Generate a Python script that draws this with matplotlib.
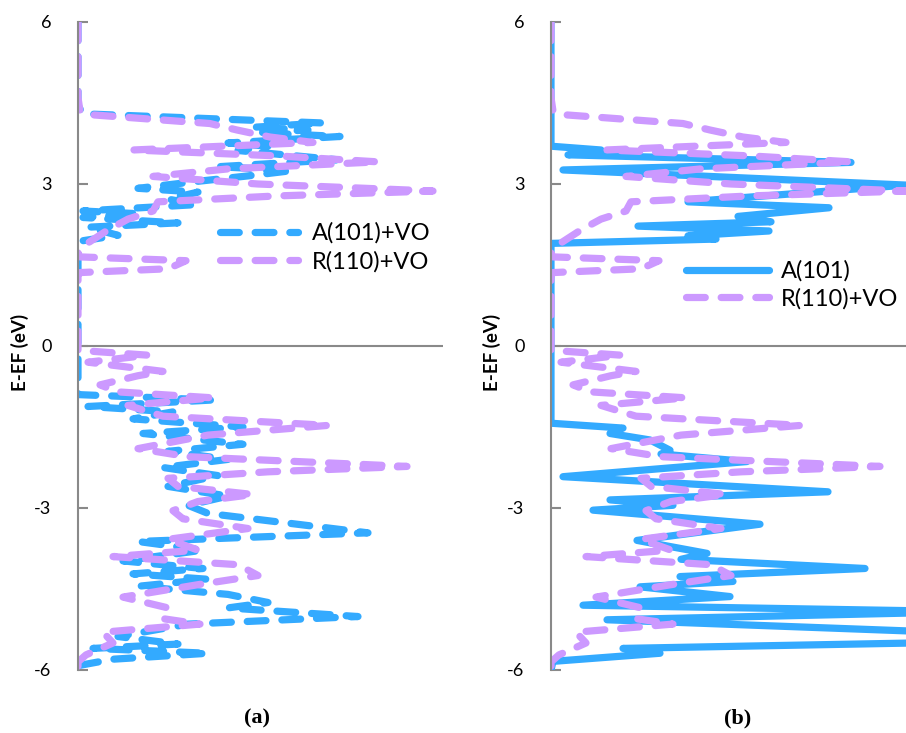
import matplotlib.pyplot as plt

plt.rcParams['font.family'] = ['Lato', 'DejaVu Sans']
plt.rcParams['axes.unicode_minus'] = False

# DOS (arbitrary units) vs energy E-EF (eV)
# R(110)+VO, shared by both panels
r110_vo_dos = [0, 0, 0.2, 1.5, 13.2, 15.9, 19.2, 23.5, 5.5, 20.0, 30.0, 15.0, 7.5, 18.0, 35.5,
               20.0, 8.0, 7.5, 5.0, 3.0, 0.5, 0, 0.2, 10.8, 9.0, 0.2, 0, 0,
               0, 7.0, 1.0, 8.5, 6.0, 2.2, 4.0, 13.5, 5.0, 8.5, 25.0, 13.0,
               6.0, 11.0, 32.9, 19.0, 9.0, 10.0, 17.5, 12.0, 9.5, 10.5, 17.0, 13.0,
               9.0, 12.0, 3.5, 16.0, 18.0, 12.0, 4.5, 9.0, 8.5, 12.2, 2.5, 3.5, 0.8, 0, 0]
r110_vo_e = [6.0, 4.6, 4.35, 4.28, 4.12, 4.0, 3.87, 3.77, 3.63, 3.52, 3.41, 3.28, 3.14, 3.0, 2.87,
             2.78, 2.67, 2.5, 2.35, 2.15, 1.85, 1.72, 1.65, 1.58, 1.43, 1.36, 1.3, 0.0,
             -0.08, -0.17, -0.3, -0.47, -0.55, -0.72, -0.85, -0.96, -1.1, -1.3, -1.47, -1.65,
             -1.9, -2.05, -2.23, -2.33, -2.45, -2.6, -2.75, -2.88, -3.05, -3.2, -3.38, -3.48,
             -3.58, -3.78, -3.9, -4.05, -4.25, -4.42, -4.65, -4.85, -5.05, -5.15, -5.3, -5.5, -5.72, -5.85, -6.0]

# A(101)+VO, panel (a)
a101_vo_dos = [0, 0, 0.5, 24.5, 17.5, 23.0, 18.0, 26.2, 15.0, 19.0, 16.0, 25.9, 14.0, 21.5,
               17.0, 12.0, 6.0, 12.0, 9.0, 12.0, 0.5, 6.0, 0.5, 10.0, 1.0, 4.0, 0.5, 0, 0,
               0, 13.5, 1.0, 9.5, 5.5, 16.5, 6.5, 16.5, 9.0, 15.0, 8.5, 14.0, 9.0, 15.0,
               11.0, 13.0, 29.0, 6.0, 12.5, 4.5, 12.5, 5.5, 13.0, 6.0, 15.0, 19.0, 15.0,
               28.0, 11.0, 4.0, 10.0, 1.5, 13.0, 3.5, 0, 0]
a101_vo_e = [6.0, 4.45, 4.3, 4.13, 4.05, 4.0, 3.95, 3.88, 3.76, 3.7, 3.62, 3.45, 3.32, 3.25,
             3.15, 3.05, 2.92, 2.85, 2.72, 2.62, 2.5, 2.45, 2.38, 2.28, 2.2, 2.05, 1.95, 1.8, 0.0,
             -0.9, -1.0, -1.12, -1.22, -1.35, -1.5, -1.62, -1.82, -1.95, -2.1, -2.25, -2.4, -2.6, -2.78,
             -2.95, -3.1, -3.46, -3.62, -3.78, -3.98, -4.12, -4.22, -4.32, -4.45, -4.6, -4.75, -4.85,
             -5.01, -5.15, -5.38, -5.52, -5.6, -5.69, -5.8, -5.92, -6.0]

# A(101), panel (b)
a101_dos = [0, 0, 5.0, 1.7, 30.0, 1.2, 35.5, 13.7, 27.8, 18.7, 22.0, 8.7, 21.8, 13.7, 16.5, 0, 0,
            7.2, 5.9, 9.9, 11.9, 11.0, 19.6, 1.2, 27.7, 5.9, 12.2, 4.2, 20.9, 8.6, 15.6, 13.0,
            31.4, 12.9, 18.2, 8.9, 17.9, 3.2, 42.0, 5.6, 42.0, 42.0, 7.2, 10.9, 0.2, 0]
a101_e = [6.0, 3.7, 3.63, 3.54, 3.4, 3.26, 2.98, 2.67, 2.56, 2.4, 2.3, 2.22, 2.13, 2.04, 1.98, 1.9, -1.43,
          -1.52, -1.62, -1.74, -1.93, -2.0, -2.14, -2.42, -2.7, -2.85, -2.95, -3.04, -3.3, -3.6, -3.84, -3.95,
          -4.12, -4.27, -4.36, -4.46, -4.64, -4.8, -4.92, -5.07, -5.32, -5.48, -5.6, -5.69, -5.84, -6.0]

yticks = [-6, -3, 0, 3, 6]

blue = '#33AAFF'
purple = '#CC99FF'
gray = '#898989'
dash = (2.6, 2.2)

fig = plt.figure(figsize=(9.06, 7.33), dpi=100)
ax1 = fig.add_axes([78 / 906, 63 / 733, 365 / 906, 648 / 733])
ax2 = fig.add_axes([551 / 906, 63 / 733, 365 / 906, 648 / 733])

ax1.plot(a101_vo_dos, a101_vo_e, color=blue, lw=5.2, dashes=dash,
         dash_capstyle='round', dash_joinstyle='round', label='A(101)+VO')
ax1.plot(r110_vo_dos, r110_vo_e, color=purple, lw=5.2, dashes=dash,
         dash_capstyle='round', dash_joinstyle='round', label='R(110)+VO')

ax2.plot(a101_dos, a101_e, color=blue, lw=5.2, solid_capstyle='round',
         solid_joinstyle='round', label='A(101)')
ax2.plot(r110_vo_dos, r110_vo_e, color=purple, lw=5.2, dashes=dash,
         dash_capstyle='round', dash_joinstyle='round', label='R(110)+VO')

for ax in (ax1, ax2):
    ax.set_xlim(0, 36.5)
    ax.set_ylim(-6, 6)
    ax.set_yticks(yticks)
    ax.set_xticks([])
    for s in ('top', 'right', 'bottom'):
        ax.spines[s].set_visible(False)
    ax.spines['left'].set_color(gray)
    ax.spines['left'].set_linewidth(1.5)
    ax.axhline(0, color=gray, lw=1.5, zorder=0.5)
    ax.tick_params(axis='y', direction='in', length=7, width=1.5, color=gray,
                   labelsize=13, pad=19)
    ax.patch.set_alpha(0)

fig.text(20 / 906, 1 - 352 / 733, 'E-EF (eV)', rotation=90, ha='center', va='center',
         fontsize=13.5, fontweight='bold')
fig.text(492 / 906, 1 - 352 / 733, 'E-EF (eV)', rotation=90, ha='center', va='center',
         fontsize=13.5, fontweight='bold')

fig.text(257 / 906, 1 - 718 / 733, '(a)', ha='center', va='center', fontsize=16,
         fontweight='bold', family='Liberation Serif')
fig.text(738 / 906, 1 - 718 / 733, '(b)', ha='center', va='center', fontsize=16,
         fontweight='bold', family='Liberation Serif')

ax1.legend(loc='center left', bbox_to_anchor=(220 / 906, 1 - 247.5 / 733),
           bbox_transform=fig.transFigure, frameon=False, fontsize=17,
           handlelength=3.3, handletextpad=0.6, labelspacing=0.3,
           borderpad=0, borderaxespad=0)
ax2.legend(loc='center left', bbox_to_anchor=(686 / 906, 1 - 285 / 733),
           bbox_transform=fig.transFigure, frameon=False, fontsize=17,
           handlelength=3.5, handletextpad=0.5, labelspacing=0.27,
           borderpad=0, borderaxespad=0)

fig.savefig('out.png', dpi=100)
